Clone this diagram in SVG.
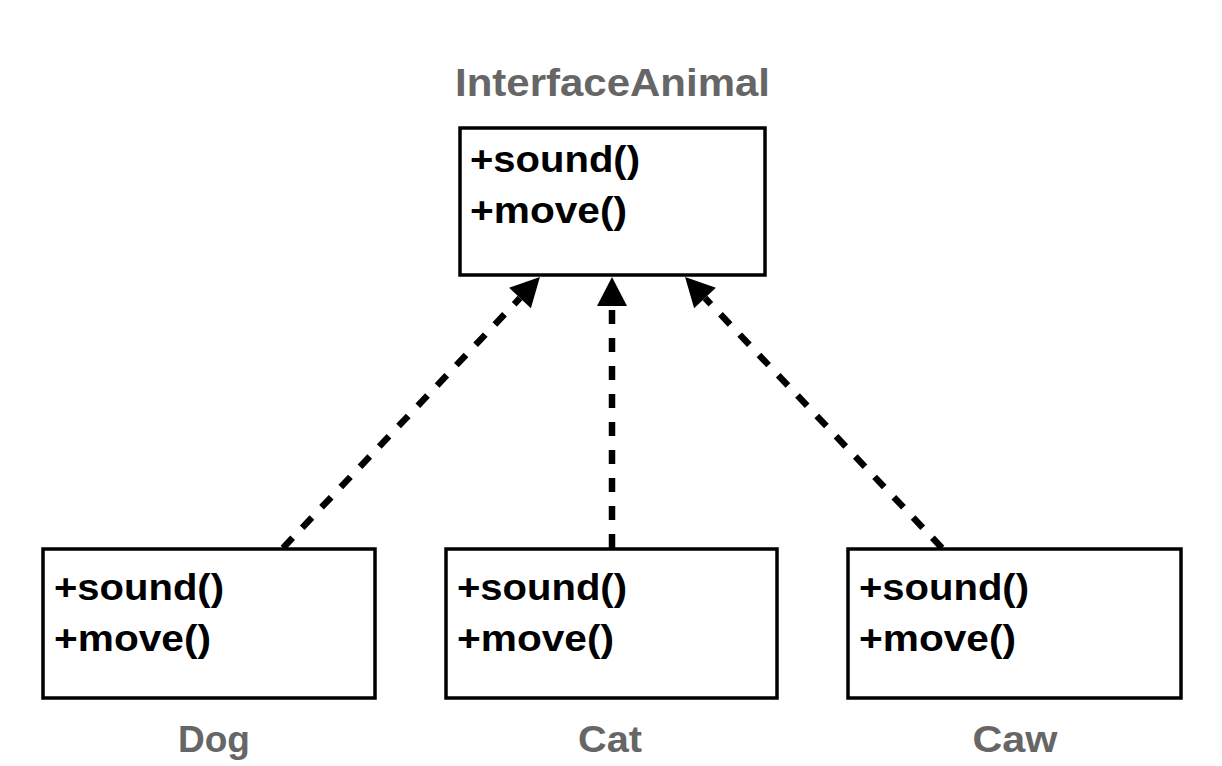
<svg xmlns="http://www.w3.org/2000/svg" width="1222" height="766" viewBox="0 0 1222 766">
<style>
.box{fill:#fff;stroke:#000;stroke-width:3.5}
.m{font-family:"Liberation Sans",Arial,sans-serif;font-weight:bold;font-size:37px;fill:#000}
.lbl{font-family:"Liberation Sans",Arial,sans-serif;font-weight:bold;font-size:37px;fill:#666;text-anchor:middle}
.dep{stroke:#000;stroke-width:6.5;stroke-dasharray:14 14;fill:none;marker-end:url(#ah)}
</style>
<defs>
<marker id="ah" markerUnits="userSpaceOnUse" markerWidth="30" markerHeight="30" refX="0" refY="14.5" orient="auto" viewBox="0 0 28 29">
<path d="M0,0 L28,14.5 L0,29 Z" fill="#000"/>
</marker>
</defs>
<rect width="1222" height="766" fill="#fff"/>
<g id="connectors">
<line class="dep" x1="283" y1="548" x2="520" y2="298"/>
<line class="dep" x1="612" y1="548" x2="612" y2="306"/>
<line class="dep" x1="942" y1="548" x2="705" y2="298"/>
</g>
<g id="InterfaceAnimal">
<text x="455" y="96" class="lbl" style="text-anchor:start;font-size:39px" textLength="315" lengthAdjust="spacingAndGlyphs">InterfaceAnimal</text>
<rect class="box" x="460" y="128" width="305" height="147"/>
<text x="470" y="172" class="m" textLength="170" lengthAdjust="spacingAndGlyphs">+sound()</text>
<text x="470" y="223" class="m" textLength="157" lengthAdjust="spacingAndGlyphs">+move()</text>
</g>
<g id="Dog">
<rect class="box" x="43" y="549" width="332" height="149"/>
<text x="54" y="600" class="m" textLength="170" lengthAdjust="spacingAndGlyphs">+sound()</text>
<text x="54" y="651" class="m" textLength="157" lengthAdjust="spacingAndGlyphs">+move()</text>
<text x="214" y="752" class="lbl" textLength="72" lengthAdjust="spacingAndGlyphs">Dog</text>
</g>
<g id="Cat">
<rect class="box" x="446" y="549" width="331" height="149"/>
<text x="457" y="600" class="m" textLength="170" lengthAdjust="spacingAndGlyphs">+sound()</text>
<text x="457" y="651" class="m" textLength="157" lengthAdjust="spacingAndGlyphs">+move()</text>
<text x="610" y="752" class="lbl" textLength="64" lengthAdjust="spacingAndGlyphs">Cat</text>
</g>
<g id="Caw">
<rect class="box" x="848" y="549" width="333" height="149"/>
<text x="859" y="600" class="m" textLength="170" lengthAdjust="spacingAndGlyphs">+sound()</text>
<text x="859" y="651" class="m" textLength="157" lengthAdjust="spacingAndGlyphs">+move()</text>
<text x="1015" y="752" class="lbl" textLength="85" lengthAdjust="spacingAndGlyphs">Caw</text>
</g>
</svg>
